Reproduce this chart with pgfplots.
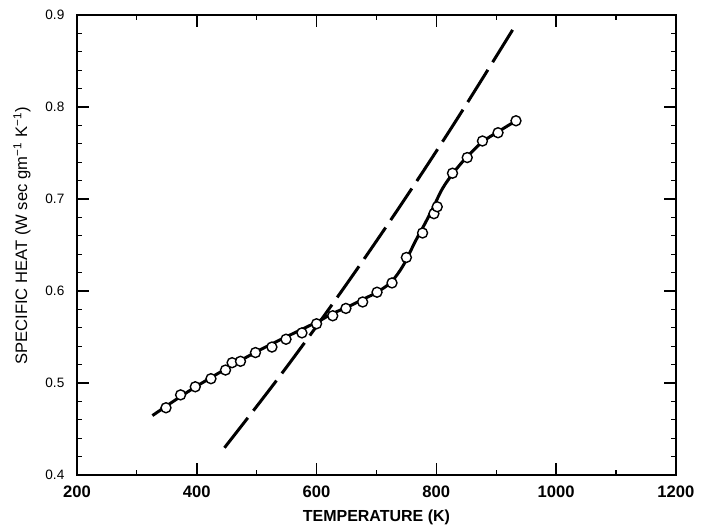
\documentclass[border=0pt]{standalone}
\usepackage{fontspec}
\setmainfont{Liberation Sans}
\usepackage{pgfplots}
\pgfplotsset{compat=1.18}
\begin{document}
\begin{tikzpicture}
\begin{axis}[name=ax, scale only axis, width=299.5pt, height=230pt,
  xmin=200, xmax=1200, ymin=0.4, ymax=0.9,
  xtick={200,400,600,800,1000,1200},
  minor xtick={300,500,700,900,1100},
  ytick={0.4,0.5,0.6,0.7,0.8,0.9},
  minor ytick={0.42,0.44,0.46,0.48,0.52,0.54,0.56,0.58,0.62,0.64,0.66,0.68,0.72,0.74,0.76,0.78,0.82,0.84,0.86,0.88},
  tick align=inside, major tick length=6pt, minor tick length=2.5pt,
  axis line style={line width=0.9pt},
  every tick/.style={line width=0.8pt, black},
  every minor tick/.style={line width=0.6pt, black},
  /pgf/number format/assume math mode=true,
  scaled ticks=false,
  xticklabel style={font=\fontsize{8.3}{9}\selectfont\bfseries, yshift=-2pt,
    /pgf/number format/.cd, 1000 sep={}},
  yticklabel style={font=\fontsize{6.8}{8}\selectfont, xshift=-2.8pt,
    /pgf/number format/.cd, fixed, fixed zerofill, precision=1},
  xlabel={TEMPERATURE (K)},
  xlabel style={at={(axis description cs:0.5,-0.0913)}, anchor=center, font=\fontsize{8}{9}\selectfont\bfseries},
  ylabel={SPECIFIC HEAT (W sec gm\textsuperscript{−1} K\textsuperscript{−1})},
  ylabel style={at={(axis description cs:-0.0918,0.52)}, anchor=center, font=\fontsize{8.3}{9}\selectfont},
  clip=false,
]
% dashed curve
\addplot[black, line width=1.5pt, smooth, tension=0.6, dash pattern=on 19pt off 4.5pt] coordinates {
(927.4,0.8838) (830.5,0.7827) (733.7,0.6866) (636.9,0.5952) (540.1,0.5086) (443.2,0.4270)};
% solid fitted curve
\addplot[black, line width=1.5pt, smooth, tension=0.55] coordinates {
(326,0.4645) (400,0.4965) (500,0.534) (600,0.566) (625,0.575) (650,0.582)
(678,0.591) (702,0.599) (725,0.610) (745,0.628) (765,0.654) (780,0.672)
(795,0.691) (810,0.711) (828,0.728) (850,0.745) (877,0.762) (903,0.773) (933,0.785)};
% data points
\addplot[only marks, mark=*, mark size=2.5pt, mark options={fill=white, draw=black, line width=0.7pt}] coordinates {
(348.6,0.473) (373,0.487) (397.5,0.4958) (423.7,0.5046) (448,0.514) (459,0.522)
(473,0.5235) (498,0.533) (525.5,0.539) (549,0.5475) (575.6,0.5544) (600,0.5643)
(627,0.573) (649,0.581) (677,0.588) (701,0.5986) (726,0.6087) (750,0.6364)
(777,0.663) (796,0.684) (801.5,0.6915) (827,0.728) (851.6,0.745) (877,0.763)
(903,0.772) (933,0.785)};
\end{axis}
\path ([shift={(-38.5pt,-25.5pt)}]ax.south west) rectangle ([shift={(12.5pt,7.5pt)}]ax.north east);
\end{tikzpicture}
\end{document}
